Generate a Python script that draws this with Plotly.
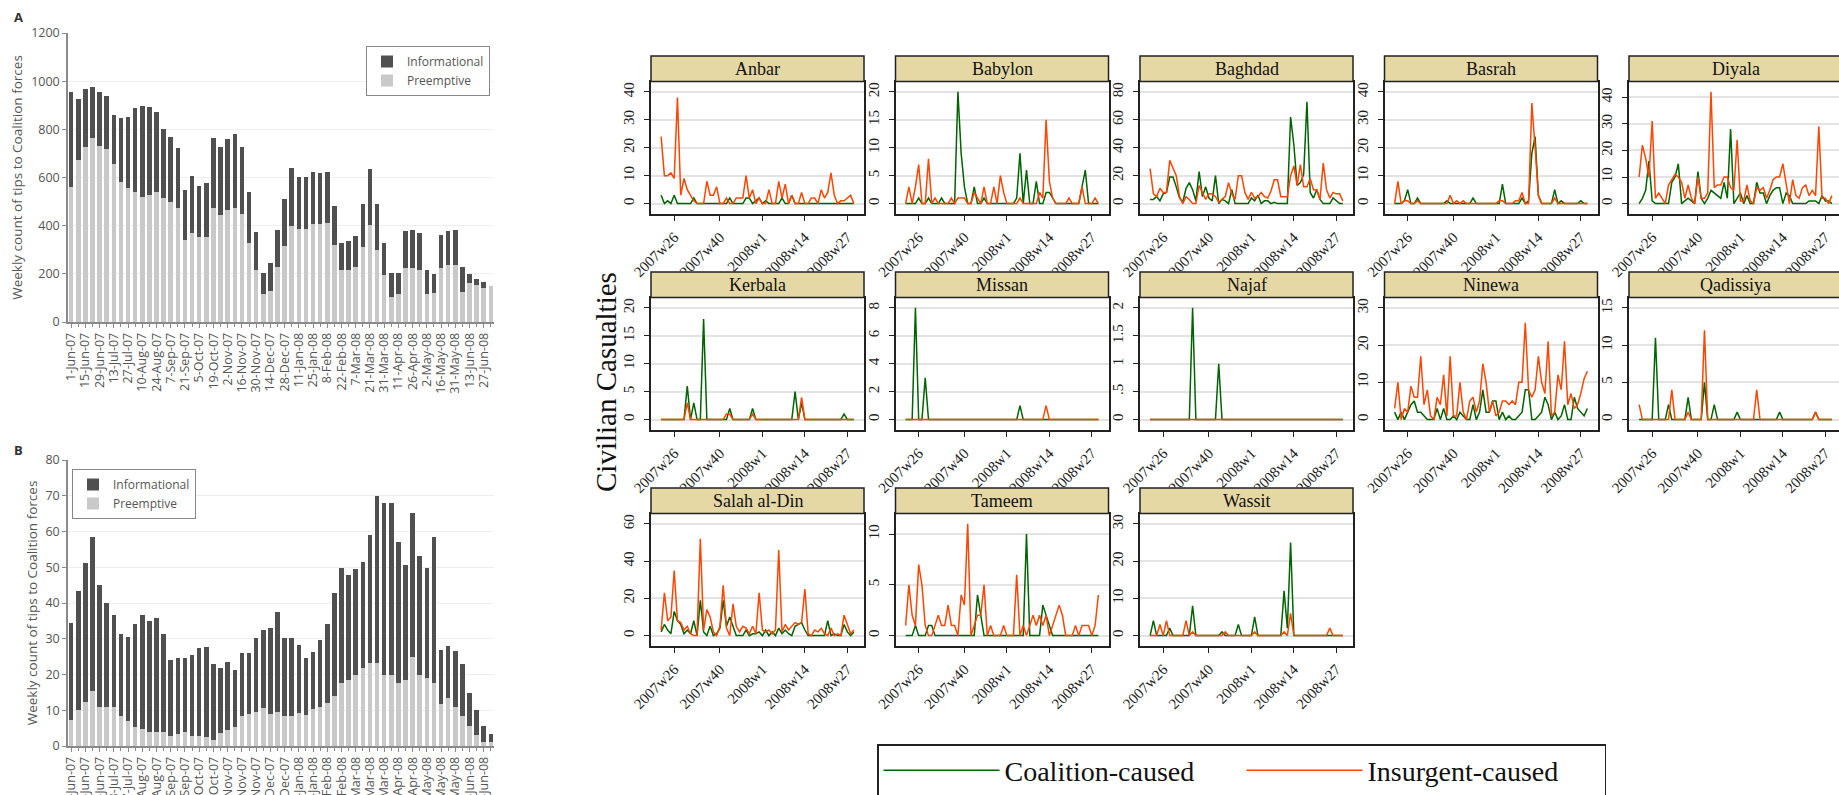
import plotly.graph_objects as go

W, H = 1839, 795

# ---------------- Left panels: weekly tips ----------------
tip_dates = ["1-Jun-07", "15-Jun-07", "29-Jun-07", "13-Jul-07", "27-Jul-07", "10-Aug-07",
             "24-Aug-07", "7-Sep-07", "21-Sep-07", "5-Oct-07", "19-Oct-07", "2-Nov-07",
             "16-Nov-07", "30-Nov-07", "14-Dec-07", "28-Dec-07", "11-Jan-08", "25-Jan-08",
             "8-Feb-08", "22-Feb-08", "7-Mar-08", "21-Mar-08", "31-Mar-08", "11-Apr-08",
             "26-Apr-08", "2-May-08", "16-May-08", "31-May-08", "13-Jun-08", "27-Jun-08"]

a_preemptive = [562, 673, 728, 766, 731, 717, 655, 583, 555, 541, 520, 527, 541, 513, 499,
                472, 340, 368, 351, 354, 472, 444, 465, 472, 448, 326, 215, 115, 128, 229,
                315, 400, 388, 388, 405, 405, 412, 319, 215, 215, 229, 312, 402, 298, 194,
                104, 118, 225, 225, 218, 118, 122, 226, 236, 236, 125, 162, 153, 143, 148]
a_informational = [395, 252, 240, 209, 226, 222, 205, 263, 295, 347, 375, 365, 329, 290, 268,
                   249, 208, 240, 215, 222, 294, 282, 294, 309, 278, 212, 160, 90, 119, 153,
                   196, 238, 213, 213, 219, 215, 212, 164, 111, 121, 128, 176, 232, 190, 135,
                   100, 86, 152, 157, 152, 100, 79, 135, 141, 146, 104, 39, 27, 23, 0]

b_preemptive = [7.3, 10.1, 12.4, 15.5, 11.0, 11.0, 11.0, 8.4, 7.0, 5.4, 4.8, 3.9, 3.9, 3.9, 2.8,
                3.3, 3.9, 2.8, 2.8, 2.6, 1.7, 3.5, 4.5, 5.2, 8.4, 9.0, 9.6, 10.5, 9.0, 9.6,
                8.5, 8.4, 9.1, 8.7, 10.3, 11.0, 11.9, 14.0, 17.7, 18.5, 19.9, 21.7, 23.3, 23.3, 19.9,
                19.9, 17.7, 18.5, 25.0, 19.9, 18.9, 17.5, 11.7, 13.3, 11.0, 8.4, 5.6, 3.1, 1.2, 1.2]
b_informational = [27.2, 33.3, 38.9, 43.1, 34.0, 29.0, 25.6, 22.9, 23.6, 28.6, 31.8, 31.1, 31.8, 27.3, 21.3,
                   21.2, 20.6, 22.7, 24.7, 25.2, 21.2, 18.2, 18.9, 16.1, 17.5, 16.9, 20.5, 21.9, 23.9, 28.0,
                   21.6, 21.7, 19.2, 15.8, 16.1, 18.7, 22.2, 28.9, 32.0, 29.3, 29.6, 29.9, 35.7, 46.6, 48.0,
                   48.0, 39.5, 32.1, 40.3, 33.2, 31.0, 41.1, 15.2, 14.8, 15.7, 14.5, 9.1, 7.0, 4.4, 2.1]

bar_x = list(range(len(a_preemptive)))

# ---------------- Right panels: civilian casualties ----------------
weeks = [f"2007w{w}" for w in range(22, 53)] + [f"2008w{w}" for w in range(1, 30)]
week_ticks = ["2007w26", "2007w40", "2008w1", "2008w14", "2008w27"]

anbar_coal = [3,0,1,0,3,0,0,0,0,0, 2,0,0,0,0,0,0,0,0,0, 0,2,0,0,0,0,2,2,0,1,
              2,0,1,0,0,0,0,2,0,0, 3,0,0,0,0,0,0,0,0,0, 0,0,0,0,0,0,0,0,0,0]
anbar_ins = [24,10,10,11,9,38,3,9,5,3, 1,0,0,0,8,3,3,6,0,0, 2,0,0,2,2,2,10,2,5,0,
             2,0,0,5,0,0,8,2,7,0, 3,0,0,4,0,0,2,2,0,5, 2,4,11,3,0,1,1,2,3,0]
babylon_coal = [0,0,0,0,1,0,0,1,0,0, 0,1,0,0,0,0,20,9,3,0, 0,3,0,0,1,0,0,0,0,0,
                0,0,0,0,1,9,0,6,0,0, 4,0,0,2,2,1,0,0,0,0, 0,0,0,0,3,6,0,0,0,0]
babylon_ins = [0,3,0,3,7,0,0,8,0,1, 0,0,0,0,1,0,1,1,1,0, 0,2,1,0,3,0,0,3,0,5,
               2,0,0,0,0,1,0,0,0,0, 0,2,1,15,4,1,0,0,0,0, 1,0,0,0,3,0,0,0,1,0]
baghdad_coal = [3,3,5,2,7,8,19,19,12,4, 1,11,15,10,2,23,5,12,4,2, 20,0,3,2,0,10,0,0,0,0,
                0,4,2,6,0,2,2,0,1,0, 0,0,0,62,42,13,15,21,73,8, 4,10,3,0,0,0,4,2,0,0]
baghdad_ins = [25,7,5,11,8,8,31,26,20,5, 0,5,3,0,0,13,8,3,7,7, 5,1,3,5,15,7,3,20,20,8,
               3,8,4,5,8,5,4,9,17,17, 5,5,5,20,27,13,28,12,12,18, 10,10,3,29,10,4,8,7,7,2]
basrah_coal = [0,0,0,1,5,0,0,2,0,0, 0,0,0,0,0,0,1,0,0,0, 0,0,0,0,2,0,0,0,0,0,
               0,0,0,7,0,0,0,0,0,2, 0,1,18,24,3,0,0,0,0,5, 0,1,0,0,0,0,0,1,0,0]
basrah_ins = [0,8,0,1,1,0,0,1,0,0, 0,0,0,0,0,0,0,3,0,1, 0,1,0,0,0,0,0,0,0,0,
              0,0,1,1,0,0,0,1,1,4, 0,0,36,20,3,0,0,0,0,2, 0,0,0,0,0,0,0,0,0,0]
diyala_coal = [0,2,5,16,1,0,0,0,0,0, 8,10,15,0,1,2,1,0,12,2, 0,2,5,4,3,2,8,2,28,0,
               2,4,0,3,0,0,8,4,4,0, 3,5,6,6,0,4,3,0,0,0, 0,0,1,1,1,0,3,1,1,0]
diyala_ins = [10,22,17,10,31,2,4,2,0,7, 9,11,10,8,2,7,2,0,10,2, 2,4,42,6,7,7,10,10,6,5,
              24,1,1,7,1,0,6,5,6,2, 5,9,10,10,15,7,0,9,3,2, 6,7,3,5,3,29,2,2,0,3]
kerbala_coal = [0,0,0,0,0,0,0,0,6,0, 3,0,0,18,0,0,0,0,0,0, 0,2,0,0,0,0,0,0,2,0,
                0,0,0,0,0,0,0,0,0,0, 0,5,0,3,0,0,0,0,0,0, 0,0,0,0,0,0,1,0,0,0]
kerbala_ins = [0,0,0,0,0,0,0,0,3,0, 0,0,0,0,0,0,0,0,0,0, 1,1,0,0,0,0,0,0,1,0,
               0,0,0,0,0,0,0,0,0,0, 0,0,0,4,0,0,0,0,0,0, 0,0,0,0,0,0,0,0,0,0]
missan_coal = [0,0,0,8,0,0,3,0,0,0, 0,0,0,0,0,0,0,0,0,0, 0,0,0,0,0,0,0,0,0,0,
               0,0,0,0,0,1,0,0,0,0, 0,0,0,0,0,0,0,0,0,0, 0,0,0,0,0,0,0,0,0,0]
missan_ins = [0,0,0,0,0,0,0,0,0,0, 0,0,0,0,0,0,0,0,0,0, 0,0,0,0,0,0,0,0,0,0,
              0,0,0,0,0,0,0,0,0,0, 0,0,0,1,0,0,0,0,0,0, 0,0,0,0,0,0,0,0,0,0]
najaf_coal = [0,0,0,0,0,0,0,0,0,0, 0,0,0,2,0,0,0,0,0,0, 0,1,0,0,0,0,0,0,0,0,
              0,0,0,0,0,0,0,0,0,0, 0,0,0,0,0,0,0,0,0,0, 0,0,0,0,0,0,0,0,0,0]
najaf_ins = [0,0,0,0,0,0,0,0,0,0, 0,0,0,0,0,0,0,0,0,0, 0,0,0,0,0,0,0,0,0,0,
             0,0,0,0,0,0,0,0,0,0, 0,0,0,0,0,0,0,0,0,0, 0,0,0,0,0,0,0,0,0,0]
ninewa_coal = [2,0,2,0,2,4,5,2,2,1, 0,0,0,3,0,3,0,0,1,0, 2,1,0,0,4,0,2,8,2,2,
               5,5,0,2,0,1,0,0,1,2, 8,8,0,0,1,2,6,4,0,2, 0,1,4,0,0,6,3,2,1,3]
ninewa_ins = [3,10,0,3,2,9,6,6,17,4, 8,1,0,6,4,12,1,17,1,1, 10,2,0,5,6,2,5,15,10,2,
              5,1,2,5,5,4,5,4,10,10, 26,8,6,8,17,10,7,21,1,2, 12,8,21,4,7,3,4,7,11,13]
qadissiya_coal = [0,0,0,0,0,11,0,0,0,2, 0,0,0,0,0,3,0,0,0,0, 5,0,0,2,0,0,0,0,0,0,
                  1,0,0,0,0,0,0,0,0,0, 0,0,0,1,0,0,0,0,0,0, 0,0,0,0,1,0,0,0,0,0]
qadissiya_ins = [2,0,0,0,0,0,0,0,0,0, 4,0,0,0,0,1,0,0,0,0, 12,0,0,0,0,0,0,0,0,0,
                 0,0,0,0,0,0,4,0,0,0, 0,0,0,0,0,0,0,0,0,0, 0,0,0,0,1,0,0,0,0,0]
salah_coal = [2,6,3,1,13,8,6,1,3,1, 8,0,19,2,0,5,0,1,4,19, 5,10,5,0,0,0,3,0,1,1,
              2,0,3,0,2,0,4,1,3,1, 0,5,6,7,3,0,0,0,0,0, 0,8,0,1,0,0,6,2,0,2]
salah_ins = [3,23,8,10,35,8,7,3,5,1, 0,0,52,3,14,10,2,0,5,27, 4,0,17,5,2,5,4,1,5,1,
             23,3,2,3,1,3,46,2,6,3, 5,7,6,7,25,1,0,3,2,4, 1,0,4,0,1,0,11,6,1,3]
tameem_coal = [0,0,0,1,0,0,0,1,1,0, 0,0,0,0,0,0,0,0,0,0, 0,0,4,2,0,0,0,0,0,0,
               0,0,0,0,0,0,0,10,0,0, 0,0,3,2,1,0,0,0,0,0, 0,0,0,0,0,0,0,0,0,0]
tameem_ins = [1,5,2,1,7,5,1,0,0,1, 2,1,1,3,1,1,0,4,3,11, 0,1,2,2,5,0,1,0,0,0,
              1,0,0,0,6,0,1,0,1,2, 1,2,1,2,0,1,2,3,2,0, 0,0,1,0,1,1,1,0,1,4]
wassit_coal = [0,4,0,0,0,0,2,0,0,0, 0,0,0,8,0,0,0,0,0,0, 0,0,1,0,0,0,0,3,0,0,
               0,0,5,0,0,0,0,0,0,0, 0,12,2,25,0,0,0,0,0,0, 0,0,0,0,0,0,0,0,0,0]
wassit_ins = [0,0,0,3,0,4,0,0,0,0, 0,4,0,1,0,0,0,0,0,0, 0,0,0,1,0,0,0,0,0,0,
              0,0,1,0,0,0,0,0,0,0, 0,1,0,6,0,0,0,0,0,0, 0,0,0,0,0,2,0,0,0,0]

panels = [
    ("Anbar", anbar_coal, anbar_ins, [0, 10, 20, 30, 40], None),
    ("Babylon", babylon_coal, babylon_ins, [0, 5, 10, 15, 20], None),
    ("Baghdad", baghdad_coal, baghdad_ins, [0, 20, 40, 60, 80], None),
    ("Basrah", basrah_coal, basrah_ins, [0, 10, 20, 30, 40], None),
    ("Diyala", diyala_coal, diyala_ins, [0, 10, 20, 30, 40], None),
    ("Kerbala", kerbala_coal, kerbala_ins, [0, 5, 10, 15, 20], None),
    ("Missan", missan_coal, missan_ins, [0, 2, 4, 6, 8], None),
    ("Najaf", najaf_coal, najaf_ins, [0, 0.5, 1, 1.5, 2], ["0", ".5", "1", "1.5", "2"]),
    ("Ninewa", ninewa_coal, ninewa_ins, [0, 10, 20, 30], None),
    ("Qadissiya", qadissiya_coal, qadissiya_ins, [0, 5, 10, 15], None),
    ("Salah al-Din", salah_coal, salah_ins, [0, 20, 40, 60], None),
    ("Tameem", tameem_coal, tameem_ins, [0, 5, 10], None),
    ("Wassit", wassit_coal, wassit_ins, [0, 10, 20, 30], None),
]

GREEN = "#006400"
ORANGE = "#FF4500"
INFO_C = "#505050"
PRE_C = "#c9c9c9"
SANS = "Open Sans"
SERIF = "Liberation Serif"

fig = go.Figure()

def fx(p):
    return p / W

def fy(p):
    return 1 - p / H

# ---- bar charts ----
for suffix, pre, info, leg in (("", a_preemptive, a_informational, "legend2"),
                               ("2", b_preemptive, b_informational, "legend3")):
    fig.add_trace(go.Bar(x=bar_x, y=pre, name="Preemptive", marker=dict(color=PRE_C, line=dict(width=0)),
                         width=0.64, xaxis="x" + suffix, yaxis="y" + suffix, legend=leg))
    fig.add_trace(go.Bar(x=bar_x, y=info, name="Informational", marker=dict(color=INFO_C, line=dict(width=0)),
                         width=0.64, xaxis="x" + suffix, yaxis="y" + suffix, legend=leg))

left_x = dict(range=[-0.45, 59.45], tickmode="array", tickvals=bar_x[::2], ticktext=tip_dates,
              tickangle=-90, ticks="outside", ticklen=4, tickcolor="#8a8a8a", showline=True,
              linecolor="#8a8a8a", linewidth=1.5, showgrid=False, zeroline=False, automargin=False,
              tickfont=dict(family=SANS, size=12.5, color="#555"),
              minor=dict(tickmode="array", tickvals=bar_x[1::2], ticks="outside", ticklen=3,
                         tickcolor="#8a8a8a"),
              domain=[fx(68), fx(494)])
left_y = dict(showgrid=True, gridcolor="#eeeeee", gridwidth=1, ticks="outside", ticklen=4,
              tickcolor="#8a8a8a", showline=True, linecolor="#8a8a8a", linewidth=1.5, zeroline=False,
              automargin=False, tickfont=dict(family=SANS, size=12.5, color="#555"),
              title=dict(text="Weekly count of tips to Coalition forces",
                         font=dict(family=SANS, size=13.5, color="#555"), standoff=5))

fig.update_layout(
    xaxis=dict(left_x, anchor="y"),
    yaxis=dict(left_y, range=[0, 1200], dtick=200, domain=[fy(322), fy(33)], anchor="x"),
    xaxis2=dict(left_x, anchor="y2"),
    yaxis2=dict(left_y, range=[0, 80], dtick=10, domain=[fy(746), fy(460)], anchor="x2"),
)

shapes = []
annotations = []

# ---- small multiples ----
PW = 213.0
for k, (name, coal, ins, ticks, ticktext) in enumerate(panels):
    r, c = divmod(k, 5)
    left = 651 + 244.5 * c
    right_full = left + PW
    right = min(right_full, W)
    top = 81.5 + 216 * r
    bottom = 214 + 216 * r
    n = k + 3
    xa, ya = f"x{n}", f"y{n}"
    hi = max(ticks[-1], max(coal), max(ins))
    pad = 0.093 * hi
    x0 = -3.1
    x1 = x0 + 65.2 * (right - left) / PW

    fig.add_trace(go.Scatter(x=weeks, y=coal, mode="lines", name="Coalition-caused",
                             line=dict(color=GREEN, width=1.5), xaxis=xa, yaxis=ya,
                             showlegend=(k == 0), legend="legend"))
    fig.add_trace(go.Scatter(x=weeks, y=ins, mode="lines", name="Insurgent-caused",
                             line=dict(color=ORANGE, width=1.5), xaxis=xa, yaxis=ya,
                             showlegend=(k == 0), legend="legend"))

    fig.layout[f"xaxis{n}"] = dict(
        type="category", domain=[fx(left), fx(right)], anchor=ya, range=[x0, x1],
        tickmode="array", tickvals=week_ticks, ticktext=week_ticks, tickangle=-45,
        ticks="outside", ticklen=5, tickcolor="#222", showline=True, mirror=True,
        linecolor="#222", linewidth=1.5, showgrid=False, zeroline=False, automargin=False,
        ticklabelstandoff=2,
        tickfont=dict(family=SERIF, size=15, color="#222"))
    fig.layout[f"yaxis{n}"] = dict(
        domain=[fy(bottom), fy(top)], anchor=xa, range=[-pad, hi + pad],
        tickmode="array", tickvals=ticks, ticktext=ticktext if ticktext else [str(t) for t in ticks],
        tickangle=-90, ticks="outside", ticklen=5, tickcolor="#222", showline=True, mirror=True,
        linecolor="#222", linewidth=1.5, showgrid=True, gridcolor="#e3e3e3", gridwidth=2,
        zeroline=True, zerolinecolor="#e3e3e3", zerolinewidth=2, automargin=False,
        ticklabelstandoff=4,
        tickfont=dict(family=SERIF, size=15, color="#222"))

    strip_top = 56 + 216 * r
    shapes.append(dict(type="rect", xref="paper", yref="paper", x0=fx(left), x1=fx(right_full),
                       y0=fy(top), y1=fy(strip_top), fillcolor="#E5D8A4",
                       line=dict(color="#222", width=1.5), layer="above"))
    annotations.append(dict(text=name, xref="paper", yref="paper", x=fx((left + right_full) / 2),
                            y=fy((strip_top + top) / 2), showarrow=False,
                            font=dict(family=SERIF, size=18, color="#111"),
                            xanchor="center", yanchor="middle"))

annotations += [
    dict(text="Civilian Casualties", xref="paper", yref="paper", x=fx(606), y=fy(382),
         textangle=-90, showarrow=False, font=dict(family=SERIF, size=29, color="#111"),
         xanchor="center", yanchor="middle"),
    dict(text="<b>A</b>", xref="paper", yref="paper", x=fx(18), y=fy(17), showarrow=False,
         font=dict(family=SANS, size=13, color="#333"), xanchor="center", yanchor="middle"),
    dict(text="<b>B</b>", xref="paper", yref="paper", x=fx(18), y=fy(450), showarrow=False,
         font=dict(family=SANS, size=13, color="#333"), xanchor="center", yanchor="middle"),
]

fig.update_layout(
    width=W, height=H, autosize=False,
    margin=dict(l=0, r=0, t=0, b=0, autoexpand=False),
    paper_bgcolor="white", plot_bgcolor="white",
    barmode="stack",
    shapes=shapes, annotations=annotations,
    legend=dict(x=fx(877), y=fy(744), xanchor="left", yanchor="top", orientation="h",
                font=dict(family=SERIF, size=28, color="#111"), bordercolor="#222", borderwidth=1.5,
                bgcolor="white", itemwidth=116, entrywidth=232, traceorder="normal"),
    legend2=dict(x=fx(366), y=fy(46), xanchor="left", yanchor="top", orientation="v",
                 font=dict(family=SANS, size=12, color="#555"), bordercolor="#888", borderwidth=1,
                 bgcolor="white", traceorder="reversed", itemwidth=30),
    legend3=dict(x=fx(72), y=fy(469), xanchor="left", yanchor="top", orientation="v",
                 font=dict(family=SANS, size=12, color="#555"), bordercolor="#888", borderwidth=1,
                 bgcolor="white", traceorder="reversed", itemwidth=30),
)

fig.write_html("out.html", config={"displayModeBar": False},
               post_script="document.body.style.margin='0';document.body.style.overflow='hidden';")
